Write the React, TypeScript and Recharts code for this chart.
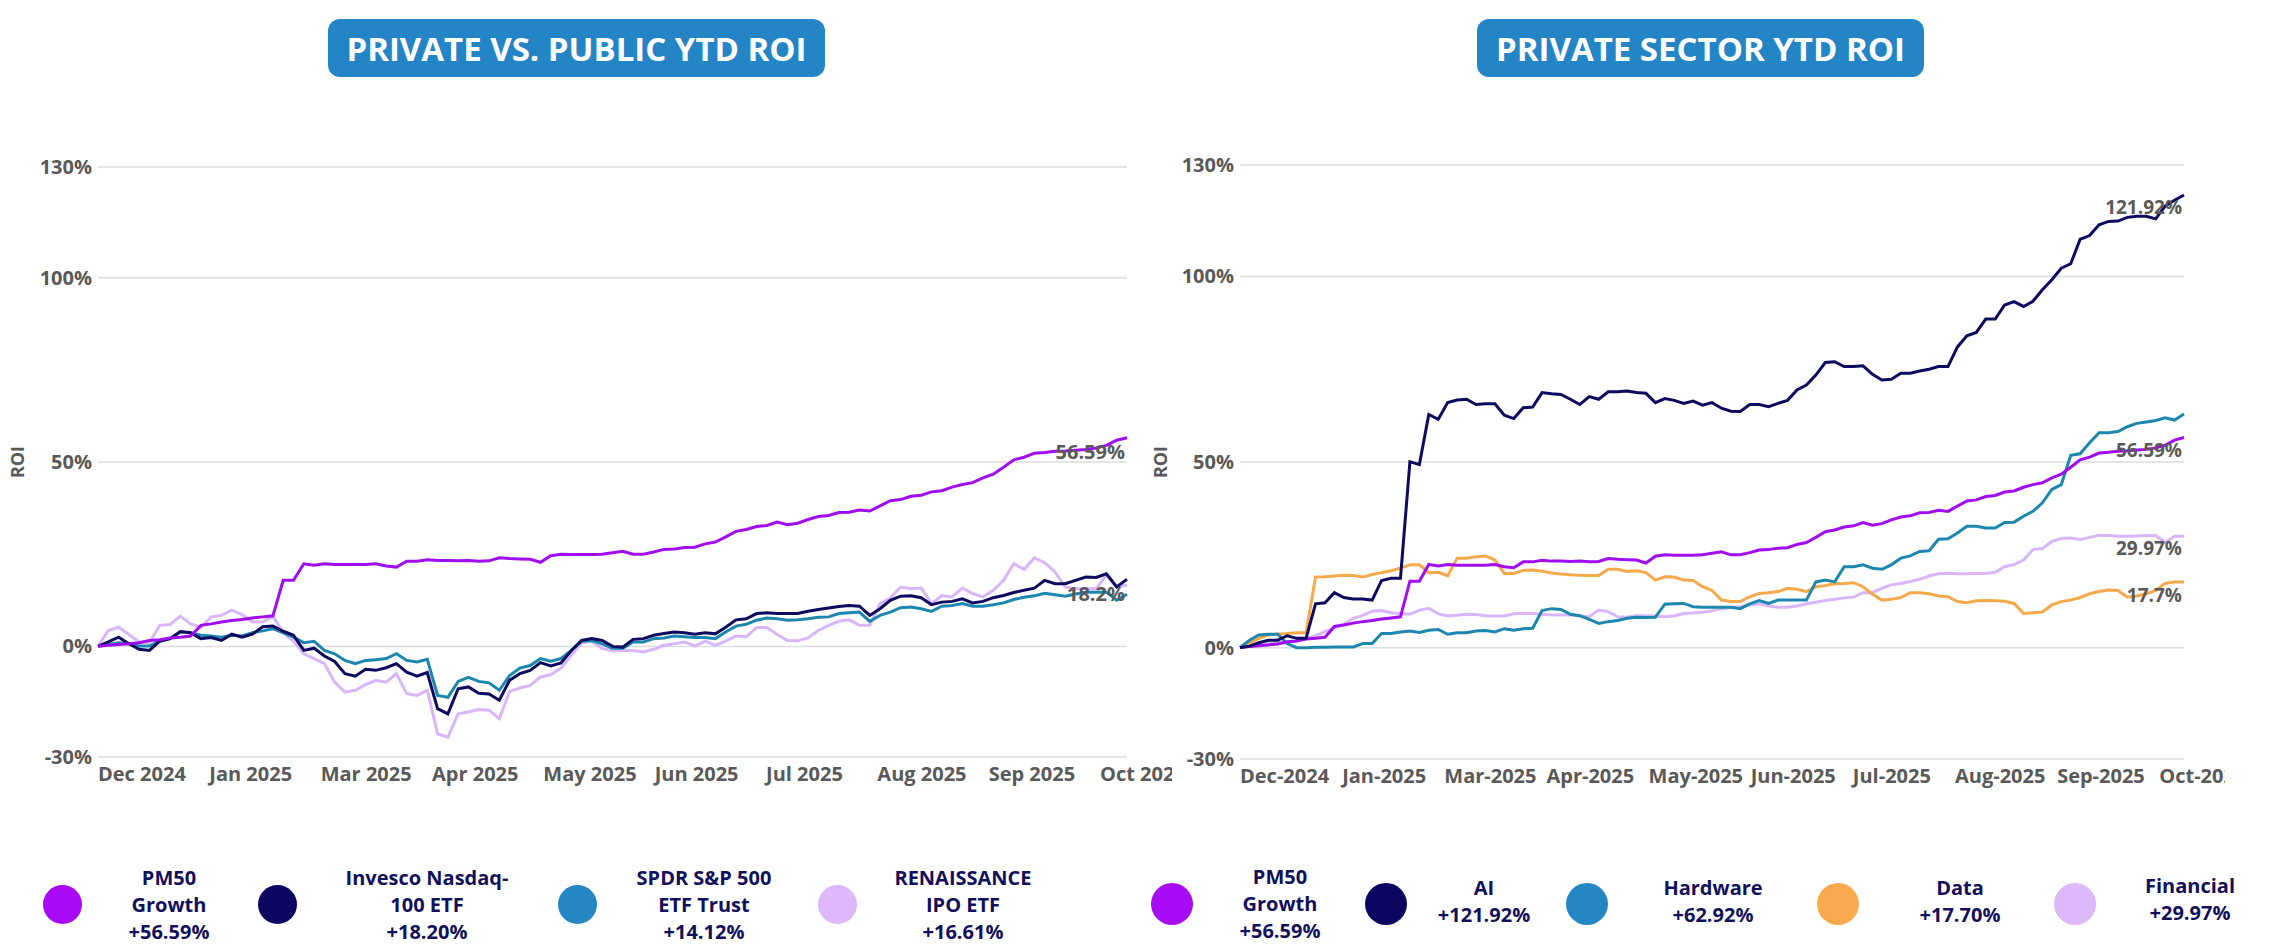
import React from 'react'
import { LineChart, Line, XAxis, YAxis, CartesianGrid, ReferenceDot } from 'recharts'

// x positions are sample steps across the year (0..100)
const steps = Array.from({ length: 101 }, (_, i) => i)

const leftMonths = ['Dec 2024', 'Jan 2025', 'Mar 2025', 'Apr 2025', 'May 2025', 'Jun 2025', 'Jul 2025', 'Aug 2025', 'Sep 2025', 'Oct 2025']
const rightMonths = ['Dec-2024', 'Jan-2025', 'Mar-2025', 'Apr-2025', 'May-2025', 'Jun-2025', 'Jul-2025', 'Aug-2025', 'Sep-2025', 'Oct-2025']
const yTicks = [-30, 0, 50, 100, 130]

const pm50 = [
  0, 0.3, 0.5, 0.7, 1.0, 1.6, 1.8, 2.3, 2.5, 2.8,
  5.7, 6.1, 6.6, 7.0, 7.3, 7.7, 8.0, 8.3, 17.9, 17.9,
  22.4, 22.0, 22.4, 22.2, 22.2, 22.2, 22.2, 22.4, 21.8, 21.5,
  23.1, 23.1, 23.5, 23.3, 23.3, 23.2, 23.3, 23.1, 23.2, 24.0,
  23.8, 23.7, 23.6, 22.8, 24.6, 25.0, 24.9, 24.9, 24.9, 25.0,
  25.4, 25.8, 25.0, 25.0, 25.6, 26.3, 26.4, 26.8, 26.9, 27.8,
  28.3, 29.7, 31.2, 31.7, 32.5, 32.8, 33.7, 33.0, 33.4, 34.4,
  35.2, 35.5, 36.3, 36.4, 37.0, 36.7, 38.1, 39.5, 39.8, 40.7,
  41.0, 41.9, 42.2, 43.2, 43.9, 44.4, 45.7, 46.7, 48.6, 50.6,
  51.3, 52.4, 52.6, 52.9, 53.0, 53.2, 53.4, 53.8, 54.5, 55.9,
  56.59,
]

const nasdaq = [
  0, 1.2, 2.5, 0.7, -0.8, -1.1, 1.4, 2.1, 4.0, 3.7,
  2.1, 2.4, 1.6, 3.3, 2.5, 3.3, 5.3, 5.5, 4.1, 3.0,
  -1.1, -0.5, -2.6, -4.1, -7.4, -8.1, -6.2, -6.5, -5.8, -4.7,
  -7.0, -8.1, -7.1, -16.9, -18.3, -11.5, -11.0, -12.7, -12.9, -14.6,
  -9.2, -7.4, -6.5, -4.4, -5.3, -4.5, -1.1, 1.6, 2.1, 1.6,
  0, -0.2, 1.9, 2.1, 3.0, 3.5, 3.9, 3.7, 3.3, 3.7,
  3.4, 5.2, 7.2, 7.5, 8.9, 9.1, 8.9, 8.9, 8.9, 9.5,
  10.0, 10.4, 10.8, 11.1, 10.9, 8.4, 10.2, 12.5, 13.6, 13.7,
  13.2, 11.3, 12.0, 12.2, 12.9, 11.8, 12.2, 13.2, 13.8, 14.6,
  15.2, 15.8, 17.9, 17.0, 17.0, 17.9, 18.8, 18.7, 19.7, 16.1,
  18.2,
]

const spdr = [
  0, 0.5, 1.0, 0.7, 0.1, 0.1, 1.5, 2.1, 3.9, 3.7,
  3.0, 2.8, 2.5, 3.0, 2.8, 3.7, 4.2, 4.8, 3.7, 2.5,
  1.0, 1.4, -1.1, -2.0, -3.8, -4.7, -3.8, -3.6, -3.3, -2.0,
  -3.8, -4.2, -3.5, -13.3, -13.8, -9.5, -8.4, -9.5, -9.9, -11.9,
  -7.9, -5.9, -5.2, -3.3, -4.0, -3.3, -1.1, 1.4, 1.6, 0.7,
  -0.5, -0.5, 1.2, 1.2, 2.1, 2.3, 2.8, 2.6, 2.4, 2.4,
  2.1, 3.9, 5.5, 6.0, 7.1, 7.7, 7.5, 7.1, 7.2, 7.5,
  7.9, 8.0, 8.9, 9.1, 9.3, 6.8, 8.4, 9.3, 10.5, 10.7,
  10.2, 9.5, 10.9, 11.1, 11.6, 10.9, 10.9, 11.3, 11.8, 12.7,
  13.3, 13.7, 14.4, 14.0, 13.6, 14.2, 14.7, 14.7, 14.7, 12.5,
  14.12,
]

const renaissance = [
  0, 4.3, 5.2, 3.2, 1.2, 1.0, 5.7, 5.9, 8.2, 6.1,
  5.2, 8.0, 8.4, 9.8, 8.6, 6.6, 6.6, 8.2, 3.7, 1.4,
  -2.0, -3.3, -4.7, -9.7, -12.4, -11.9, -10.4, -9.2, -9.7, -7.4,
  -12.8, -13.3, -11.9, -23.7, -24.6, -18.3, -17.8, -17.1, -17.3, -19.6,
  -12.2, -11.3, -10.6, -8.3, -7.7, -5.9, -2.4, 1.0, 1.4, -0.6,
  -1.2, -1.1, -1.1, -1.5, -0.8, 0.3, 0.7, 1.2, 0.1, 1.4,
  0.3, 1.4, 2.8, 2.6, 5.1, 5.1, 3.2, 1.6, 1.5, 2.3,
  4.3, 5.7, 6.8, 7.2, 5.7, 5.7, 11.6, 13.1, 16.1, 15.6,
  15.8, 11.6, 13.8, 13.4, 15.8, 14.3, 13.4, 15.2, 17.9, 22.4,
  20.9, 24.0, 22.7, 20.2, 16.1, 15.6, 15.6, 15.6, 19.3, 16.1,
  16.61,
]

const ai = [
  0, 0.4, 1.3, 2.0, 2.0, 3.2, 2.5, 2.5, 11.8, 12.1,
  14.8, 13.5, 13.1, 13.1, 12.8, 18.1, 18.7, 18.7, 50.1, 49.3,
  62.8, 61.5, 66.0, 66.7, 66.9, 65.5, 65.7, 65.7, 62.6, 61.7,
  64.6, 64.8, 68.7, 68.4, 68.2, 66.9, 65.5, 67.6, 66.9, 68.9,
  68.9, 69.1, 68.7, 68.5, 66.0, 67.1, 66.6, 65.8, 66.4, 65.3,
  66.0, 64.5, 63.7, 63.6, 65.5, 65.5, 64.9, 65.8, 66.6, 69.4,
  70.7, 73.4, 76.8, 77.0, 75.7, 75.7, 75.9, 73.6, 72.1, 72.3,
  73.9, 73.9, 74.5, 75.0, 75.7, 75.7, 81.0, 84.0, 84.9, 88.5,
  88.5, 92.3, 93.2, 91.9, 93.3, 96.4, 99.1, 102.2, 103.4, 110.0,
  111.0, 113.9, 114.8, 114.9, 115.9, 116.2, 116.2, 115.5, 118.9, 120.5,
  121.92,
]

const hardware = [
  0, 2.0, 3.4, 3.6, 3.6, 1.1, 0, 0, 0.1, 0.1,
  0.2, 0.2, 0.2, 1.1, 1.1, 3.8, 3.8, 4.2, 4.5, 4.1,
  4.7, 4.9, 3.6, 4.0, 4.0, 4.5, 4.6, 4.2, 5.1, 4.7,
  5.1, 5.2, 10.0, 10.5, 10.3, 9.0, 8.6, 7.6, 6.5, 7.0,
  7.3, 7.9, 8.2, 8.1, 8.2, 11.7, 11.8, 11.9, 11.0, 10.9,
  10.9, 10.9, 10.9, 10.5, 11.8, 12.7, 11.9, 12.8, 12.8, 12.8,
  12.8, 17.7, 18.2, 17.7, 21.8, 21.8, 22.3, 21.4, 21.1, 22.3,
  24.1, 24.7, 25.9, 26.1, 29.2, 29.3, 30.9, 32.7, 32.7, 32.2,
  32.2, 33.7, 33.8, 35.4, 36.7, 39.0, 42.6, 43.9, 51.8, 52.2,
  55.2, 57.9, 57.9, 58.2, 59.5, 60.4, 60.8, 61.2, 61.9, 61.3,
  62.92,
]

const dataSector = [
  0, 1.3, 2.5, 3.4, 3.7, 3.8, 4.0, 4.0, 19.0, 19.1,
  19.3, 19.5, 19.4, 19.0, 19.7, 20.2, 20.7, 21.4, 22.3, 22.3,
  20.2, 20.3, 19.3, 24.1, 24.1, 24.5, 24.7, 23.6, 20.0, 20.0,
  20.8, 20.9, 20.6, 20.1, 19.8, 19.6, 19.5, 19.4, 19.4, 21.1,
  21.1, 20.5, 20.7, 20.2, 18.2, 19.1, 19.0, 18.2, 18.1, 16.4,
  15.4, 12.8, 12.4, 12.4, 13.7, 14.6, 14.8, 15.1, 16.0, 15.7,
  15.1, 16.4, 16.7, 17.2, 17.3, 17.5, 16.4, 14.4, 12.8, 13.0,
  13.5, 14.8, 14.8, 14.5, 13.9, 13.7, 12.4, 12.1, 12.6, 12.7,
  12.6, 12.5, 11.9, 9.2, 9.4, 9.6, 11.5, 12.4, 12.8, 13.5,
  14.5, 15.1, 15.5, 15.4, 13.6, 13.9, 14.5, 15.4, 17.3, 17.7,
  17.7,
]

const financial = [
  0, 0.4, 0.9, 1.1, 1.3, 1.3, 1.8, 2.5, 3.2, 4.3,
  5.4, 6.3, 7.9, 8.7, 9.8, 10.0, 9.4, 9.2, 9.0, 10.1,
  10.6, 9.1, 8.5, 8.7, 9.0, 8.9, 8.6, 8.5, 8.5, 9.1,
  9.2, 9.2, 9.0, 8.8, 8.8, 8.8, 8.5, 8.3, 10.1, 9.7,
  8.3, 8.2, 8.6, 8.6, 8.5, 8.3, 8.5, 9.2, 9.3, 9.5,
  9.9, 10.5, 10.9, 11.0, 11.5, 11.8, 11.2, 10.9, 10.9, 11.2,
  11.8, 12.2, 12.7, 13.0, 13.4, 13.6, 14.8, 14.8, 16.0, 16.9,
  17.3, 17.8, 18.4, 19.3, 19.9, 20.0, 19.9, 19.9, 20.0, 20.0,
  20.3, 21.8, 22.4, 23.6, 26.4, 26.7, 28.6, 29.4, 29.5, 29.1,
  29.7, 30.3, 30.2, 30.0, 30.0, 30.1, 30.2, 30.2, 28.3, 30.0,
  29.97,
]

const leftLegendNames = [['PM50', 'Growth'], ['Invesco Nasdaq-', '100 ETF'], ['SPDR S&P 500', 'ETF Trust'], ['RENAISSANCE', 'IPO ETF']]
const leftLegendReturns = ['+56.59%', '+18.20%', '+14.12%', '+16.61%']
const rightLegendNames = [['PM50', 'Growth'], ['AI'], ['Hardware'], ['Data'], ['Financial']]
const rightLegendReturns = ['+56.59%', '+121.92%', '+62.92%', '+17.70%', '+29.97%']

const leftData = steps.map((i) => ({ i, pm50: pm50[i], nasdaq: nasdaq[i], spdr: spdr[i], renaissance: renaissance[i] }))
const rightData = steps.map((i) => ({ i, pm50: pm50[i], ai: ai[i], hardware: hardware[i], data: dataSector[i], financial: financial[i] }))

const FONT = "'Open Sans', sans-serif"
const GREY = '#595959'
const NAVY_TEXT = '#120f5c'
const TICK_STEP = 10.82
const xTicks = leftMonths.map((_, k) => k * TICK_STEP)

const C = {
  purple: '#a10cf0',
  navy: '#0e0a60',
  teal: '#1b87ae',
  lavender: '#d9b5fa',
  orange: '#f6a94b',
}
const LEGEND_C = {
  purple: '#a60af7',
  navy: '#0b0662',
  teal: '#2586c4',
  lavender: '#ddb8fb',
  orange: '#f8aa4c',
}

const last = steps.length - 1

const monthTick = (labels: string[]) => (props: any) => {
  const { x, y, payload } = props
  const k = Math.round(payload.value / TICK_STEP)
  return (
    <text x={x} y={y} dy="0.71em" textAnchor="start" fill={GREY} fontSize={20} fontWeight={700} fontFamily={FONT}>
      {labels[k]}
    </text>
  )
}

const endLabel = (value: number, dy: number, size: number) => (props: any) => (
  <text
    x={props.cx - 2}
    y={props.cy + dy}
    textAnchor="end"
    dominantBaseline="central"
    fill={GREY}
    fontSize={size}
    fontWeight={700}
    fontFamily={FONT}
  >
    {`${value}%`}
  </text>
)

const yTick = { fill: GREY, fontSize: 20, fontWeight: 700, fontFamily: FONT }

function TitleBox({ left, width, text }: { left: number; width: number; text: string }) {
  return (
    <div
      style={{
        position: 'absolute', left, top: 19, width, height: 58, borderRadius: 12,
        background: '#2384c6', color: '#fff', fontFamily: FONT, fontWeight: 700, fontSize: 33,
        display: 'flex', alignItems: 'center', justifyContent: 'center', whiteSpace: 'nowrap',
      }}
    >
      {text}
    </div>
  )
}

function LegendItem({ cx, tx, cy, size, color, lines }: { cx: number; tx: number; cy: number; size: number; color: string; lines: string[] }) {
  return (
    <>
      <div style={{ position: 'absolute', left: cx - size / 2, top: 904 - size / 2, width: size, height: size, borderRadius: '50%', background: color }} />
      <div
        style={{
          position: 'absolute', left: tx, top: cy, transform: 'translate(-50%, -50%)', textAlign: 'center',
          fontFamily: FONT, fontWeight: 700, fontSize: 20, lineHeight: '27px', color: NAVY_TEXT, whiteSpace: 'nowrap',
        }}
      >
        {lines.map((l) => <div key={l}>{l}</div>)}
      </div>
    </>
  )
}

function RoiLabel({ x }: { x: number }) {
  return (
    <div
      style={{
        position: 'absolute', left: x, top: 462, transform: 'translate(-50%, -50%) rotate(-90deg)',
        fontFamily: FONT, fontWeight: 700, fontSize: 18, color: GREY,
      }}
    >
      ROI
    </div>
  )
}

export default function App() {
  const leftColors = [LEGEND_C.purple, LEGEND_C.navy, LEGEND_C.teal, LEGEND_C.lavender]
  const leftCx = [62, 277, 577, 837]
  const leftTx = [169, 427, 704, 963]
  const rightColors = [LEGEND_C.purple, LEGEND_C.navy, LEGEND_C.teal, LEGEND_C.orange, LEGEND_C.lavender]
  const rightCx = [1172, 1386, 1587, 1838, 2075]
  const rightTx = [1280, 1484, 1713, 1960, 2190]

  return (
    <div style={{ position: 'absolute', left: 0, top: 0, width: 2269, height: 950, background: '#fff', overflow: 'hidden' }}>
      <TitleBox left={328} width={497} text="PRIVATE VS. PUBLIC YTD ROI" />
      <TitleBox left={1477} width={447} text="PRIVATE SECTOR YTD ROI" />

      <div style={{ position: 'absolute', left: 0, top: 0 }}>
        <LineChart width={1172} height={800} data={leftData} margin={{ top: 167, right: 45, left: 0, bottom: 0 }}>
          <CartesianGrid vertical={false} stroke="#dddddd" strokeWidth={1.5} />
          <XAxis
            dataKey="i" type="number" domain={[0, 100]} ticks={xTicks} interval={0}
            axisLine={false} tickLine={false} tickSize={6} tickMargin={4} height={43}
            tick={monthTick(leftMonths)}
          />
          <YAxis
            type="number" domain={[-30, 130]} ticks={yTicks} interval={0} width={98}
            axisLine={false} tickLine={false} tickSize={4} tickMargin={2}
            tickFormatter={(v) => `${v}%`} tick={yTick}
          />
          <Line dataKey="renaissance" type="linear" stroke={C.lavender} strokeWidth={3} dot={false} isAnimationActive={false} />
          <Line dataKey="spdr" type="linear" stroke={C.teal} strokeWidth={3} dot={false} isAnimationActive={false} />
          <Line dataKey="nasdaq" type="linear" stroke={C.navy} strokeWidth={3} dot={false} isAnimationActive={false} />
          <Line dataKey="pm50" type="linear" stroke={C.purple} strokeWidth={3} dot={false} isAnimationActive={false} />
          <ReferenceDot x={last} y={pm50[last]} r={0} shape={endLabel(pm50[last], 14, 20)} />
          <ReferenceDot x={last} y={nasdaq[last]} r={0} shape={endLabel(nasdaq[last], 14, 20)} />
        </LineChart>
      </div>

      <div style={{ position: 'absolute', left: 1172, top: 0 }}>
        <LineChart width={1053} height={802} data={rightData} margin={{ top: 165, right: 41, left: 0, bottom: 0 }}>
          <CartesianGrid vertical={false} stroke="#dddddd" strokeWidth={1.5} />
          <XAxis
            dataKey="i" type="number" domain={[0, 100]} ticks={xTicks} interval={0}
            axisLine={false} tickLine={false} tickSize={6} tickMargin={4} height={43}
            tick={monthTick(rightMonths)}
          />
          <YAxis
            type="number" domain={[-30, 130]} ticks={yTicks} interval={0} width={68}
            axisLine={false} tickLine={false} tickSize={4} tickMargin={2}
            tickFormatter={(v) => `${v}%`} tick={yTick}
          />
          <Line dataKey="financial" type="linear" stroke={C.lavender} strokeWidth={3} dot={false} isAnimationActive={false} />
          <Line dataKey="data" type="linear" stroke={C.orange} strokeWidth={3} dot={false} isAnimationActive={false} />
          <Line dataKey="hardware" type="linear" stroke={C.teal} strokeWidth={3} dot={false} isAnimationActive={false} />
          <Line dataKey="pm50" type="linear" stroke={C.purple} strokeWidth={3} dot={false} isAnimationActive={false} />
          <Line dataKey="ai" type="linear" stroke={C.navy} strokeWidth={3} dot={false} isAnimationActive={false} />
          <ReferenceDot x={last} y={ai[last]} r={0} shape={endLabel(ai[last], 12, 19)} />
          <ReferenceDot x={last} y={pm50[last]} r={0} shape={endLabel(pm50[last], 12, 19)} />
          <ReferenceDot x={last} y={financial[last]} r={0} shape={endLabel(financial[last], 12, 19)} />
          <ReferenceDot x={last} y={dataSector[last]} r={0} shape={endLabel(dataSector[last], 13, 19)} />
        </LineChart>
      </div>

      <RoiLabel x={17} />
      <RoiLabel x={1160} />

      {leftLegendNames.map((names, k) => (
        <LegendItem key={'l' + k} cx={leftCx[k]} tx={leftTx[k]} cy={904} size={39} color={leftColors[k]} lines={[...names, leftLegendReturns[k]]} />
      ))}
      {rightLegendNames.map((names, k) => (
        <LegendItem
          key={'r' + k} cx={rightCx[k]} tx={rightTx[k]} cy={names.length > 1 ? 903 : k === 4 ? 899 : 901}
          size={42} color={rightColors[k]} lines={[...names, rightLegendReturns[k]]}
        />
      ))}
    </div>
  )
}
